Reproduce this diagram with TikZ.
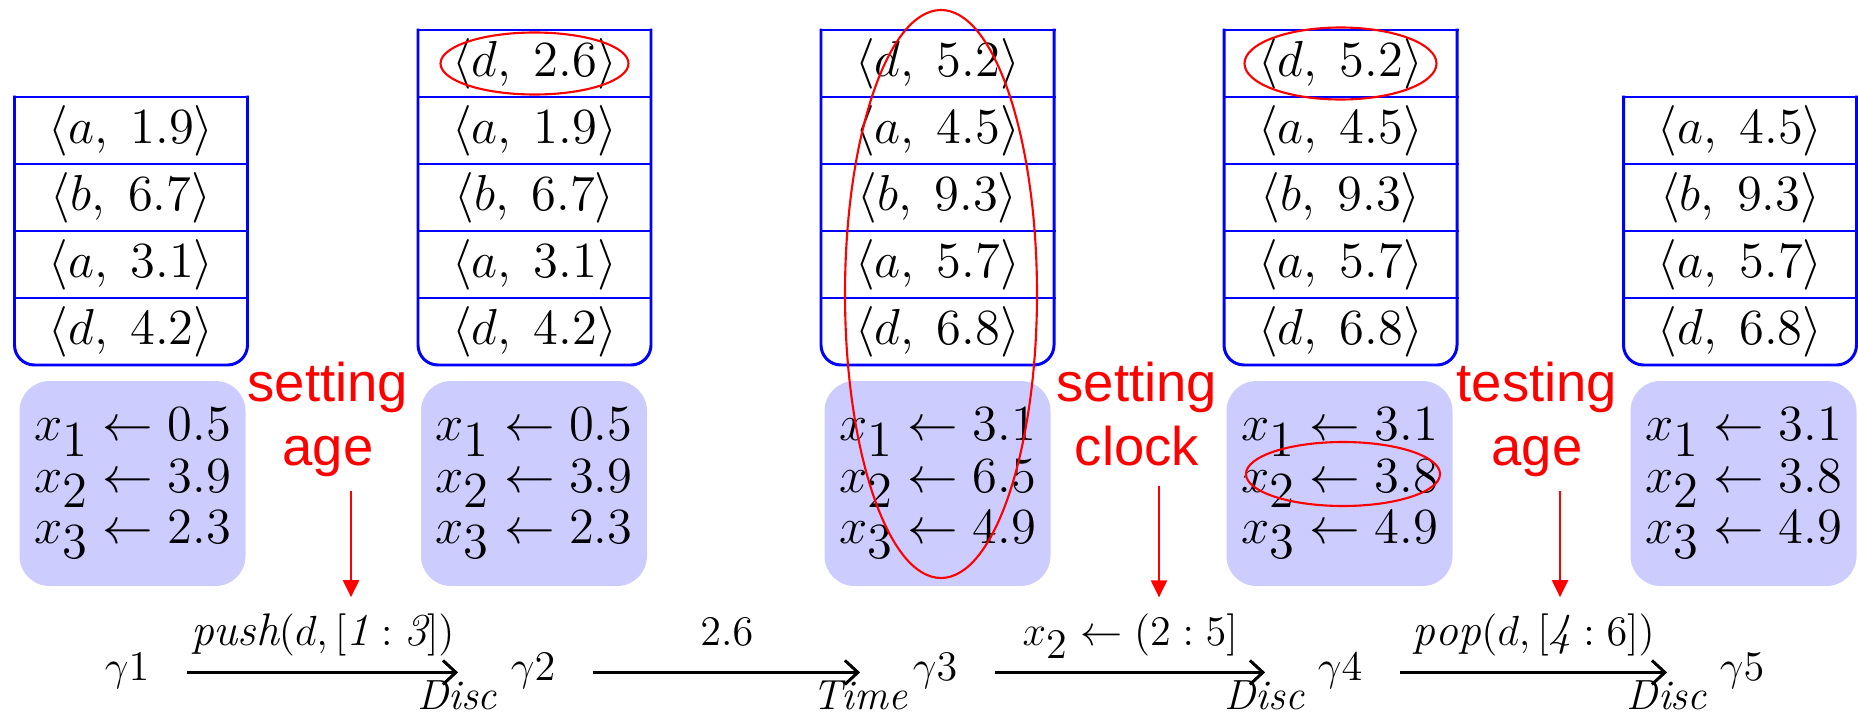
\documentclass[tikz,border=0pt]{standalone}
\usepackage{fontspec}
\newfontfamily\notefont{Liberation Sans}
\usetikzlibrary{positioning, arrows.meta, calc}
\definecolor{stackblue}{RGB}{0,0,255}
\definecolor{clockfill}{RGB}{204,204,255}
\definecolor{notered}{RGB}{255,0,0}

\begin{document}
\begin{tikzpicture}[
    cell/.style={minimum width=2.33cm, minimum height=0.67cm,
                 inner sep=0pt, outer sep=0pt, font=\fontsize{14}{16}\selectfont},
    rim/.style={draw=stackblue, line width=0.85pt, line cap=rect},
    clock/.style={fill=clockfill, rounded corners=0.3cm,
                  minimum width=2.26cm, minimum height=2.05cm,
                  align=left, font=\fontsize{14}{12.9}\selectfont},
    conf/.style={anchor=base, inner sep=0pt, font=\fontsize{13}{15}\selectfont},
    trans/.style={-{Straight Barb[length=1.3mm, width=2.4mm]}, line width=0.85pt,
                  shorten <=0.37cm, shorten >=0.52cm},
    act/.style={anchor=base, pos=0.48, yshift=0.27cm, inner sep=0pt,
                font=\fontsize{13}{15}\selectfont},
    kind/.style={anchor=north, pos=0.853, yshift=-0.07cm, inner sep=0pt,
                 font=\fontsize{12}{14}\selectfont},
    note/.style={anchor=north, inner sep=0pt, align=center, text=notered,
                 font=\notefont\fontsize{15.5}{18.2}\selectfont},
    cue/.style={-{Triangle[length=1.7mm, width=1.6mm]}, draw=notered, line width=0.6pt},
    ring/.style={draw=notered, line width=0.6pt},
]
\useasboundingbox (0,0) rectangle (18.58,-7.13);

% stack contents
\foreach \u/\v [count=\i] in {a/1.9, b/6.7, a/3.1, d/4.2}
  \node[cell] (s1\i) at (1.31,{-0.635-0.67*\i}) {$\langle \u,\; \v\rangle$};
\foreach \u/\v [count=\i] in {d/2.6, a/1.9, b/6.7, a/3.1, d/4.2}
  \node[cell] (s2\i) at (5.345,{0.035-0.67*\i}) {$\langle \u,\; \v\rangle$};
\foreach \u/\v [count=\i] in {d/5.2, a/4.5, b/9.3, a/5.7, d/6.8}
  \node[cell] (s3\i) at (9.375,{0.035-0.67*\i}) {$\langle \u,\; \v\rangle$};
\foreach \u/\v [count=\i] in {d/5.2, a/4.5, b/9.3, a/5.7, d/6.8}
  \node[cell] (s4\i) at (13.405,{0.035-0.67*\i}) {$\langle \u,\; \v\rangle$};
\foreach \u/\v [count=\i] in {a/4.5, b/9.3, a/5.7, d/6.8}
  \node[cell] (s5\i) at (17.40,{-0.635-0.67*\i}) {$\langle \u,\; \v\rangle$};

% stack outlines, open at the top corners so only the bottom is rounded
\foreach \s/\n in {1/4, 2/5, 3/5, 4/5, 5/4} {
  \foreach \i in {1,...,\n}
    \draw[rim] (s\s\i.north west) -- (s\s\i.north east);
  \draw[rim, rounded corners=2mm] (s\s1.north west) -- (s\s\n.south west)
    -- (s\s\n.south east) -- (s\s1.north east);
}

% clock valuations
\foreach \x/\p/\q/\r [count=\i] in {1.325/0.5/3.9/2.3, 5.34/0.5/3.9/2.3,
    9.375/3.1/6.5/4.9, 13.395/3.1/3.8/4.9, 17.435/3.1/3.8/4.9}
  \node[clock] (c\i) at (\x,-4.835)
    {$x_{\textstyle 1} \leftarrow \p$\\$x_{\textstyle 2} \leftarrow \q$\\$x_{\textstyle 3} \leftarrow \r$};

% run
\node[conf] (g1) at (1.27,-6.80)  {$\gamma1$};
\node[conf] (g2) at (5.33,-6.80)  {$\gamma2$};
\node[conf] (g3) at (9.35,-6.80)  {$\gamma3$};
\node[conf] (g4) at (13.40,-6.80) {$\gamma4$};
\node[conf] (g5) at (17.42,-6.80) {$\gamma5$};

\foreach \a/\b/\l/\k in {g1/g2/{\mathit{push}(d,[\mathit{1}:\mathit{3}])}/Disc,
    g2/g3/{2.6}/Time, g3/g4/{x_{\textstyle 2} \leftarrow (2:5]}/Disc,
    g4/g5/{\mathit{pop}(d,[\mathit{4}:6])}/Disc}
  \draw[trans] (\a.mid east) -- node[act] {$\l$} node[kind] {$\mathit{\k}$} (\b.mid west);

% annotations
\node[note] (n1) at (3.28,-3.61)  {setting\\age};
\node[note] (n2) at (11.37,-3.61) {setting\\clock};
\node[note] (n3) at (15.37,-3.61) {testing\\age};
\draw[cue] ([xshift=2.3mm, yshift=-1.4mm]n1.south) -- ++(0,-1.06);
\draw[cue] ([xshift=2.2mm, yshift=-2.0mm]n2.south) -- ++(0,-1.11);
\draw[cue] ([xshift=2.3mm, yshift=-1.4mm]n3.south) -- ++(0,-1.06);

\draw[ring] (s21) ellipse [x radius=0.94, y radius=0.31];
\draw[ring] ([xshift=0.35mm, yshift=-9.65mm]s33.center) ellipse [x radius=0.96, y radius=2.84];
\draw[ring] (s41) ellipse [x radius=0.96, y radius=0.36];
\draw[ring] ([xshift=0.35mm, yshift=0.95mm]c4.center) ellipse [x radius=0.97, y radius=0.32];
\end{tikzpicture}
\end{document}
